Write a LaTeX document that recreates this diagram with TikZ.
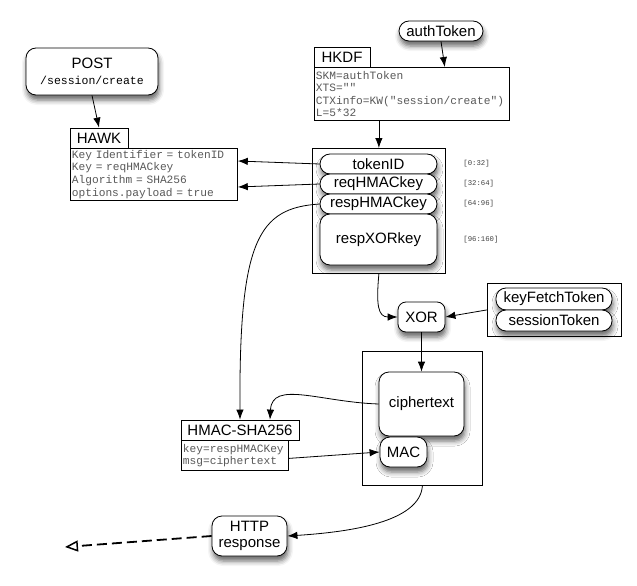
\documentclass[tikz,border=0pt]{standalone}
\usepackage{fontspec}
\setmainfont{Liberation Sans}
\newfontfamily\monof{Liberation Mono}
\usetikzlibrary{arrows.meta,shadows.blur,calc}
\begin{document}
\begin{tikzpicture}[x=1pt,y=-1pt, line width=0.8pt,
  >={Latex[length=10pt,width=7.5pt]},
  lab/.style={font=\fontsize{15}{17}\selectfont, align=center},
  shad/.style={blur shadow={shadow xshift=1pt,shadow yshift=-5pt,shadow blur radius=5pt,shadow opacity=60}},
  rbox/.style={draw, fill=white, rounded corners=#1, shad, lab, inner sep=0pt},
  rbox/.default=10pt,
  title/.style={draw, fill=white, lab, inner sep=0pt},
  body/.style={draw, fill=white, inner xsep=1.5pt, inner ysep=0pt, align=left, text=black!65,
    font=\monof\fontsize{11.2}{12.6}\selectfont},
  frame/.style={draw, fill=white, inner sep=0pt},
  rng/.style={font=\monof\fontsize{7.3}{8}\selectfont, text=black!75, anchor=west, inner sep=0pt}
]
\useasboundingbox (0,0) rectangle (637,586);

% POST
\node[rbox, minimum width=132pt, minimum height=47pt] (post) at (92,71.5)
  {POST\\[-1pt]{\monof\fontsize{11.5}{13}\selectfont /session/create}};

% HAWK
\node[title, minimum width=58pt, minimum height=20pt] (hawkt) at (99,138) {HAWK};
\node[body, text width=164pt, minimum height=52pt, anchor=north west] (hawkb) at (70,148)
  {Key Identifier = tokenID\\Key = reqHMACkey\\Algorithm = SHA256\\options.payload = true};

% authToken and HKDF
\node[rbox, minimum width=84pt, minimum height=20pt] (auth) at (441,31) {authToken};
\node[title, minimum width=56pt, minimum height=20pt] (hkdft) at (342,57) {HKDF};
\node[body, text width=192pt, minimum height=53pt, anchor=north west] (hkdfb) at (314,67)
  {SKM=authToken\\XTS=""\\CTXinfo=KW("session/create")\\L=5*32};

% key container
\node[frame, minimum width=133pt, minimum height=125pt, anchor=north west] (c1) at (312,148) {};
\node[rbox, minimum width=117pt, minimum height=20pt] (tok) at (378.5,164) {tokenID};
\node[rbox, minimum width=117pt, minimum height=20pt] (req) at (378.5,184) {reqHMACkey};
\node[rbox, minimum width=117pt, minimum height=20pt] (resp) at (378.5,204) {respHMACkey};
\node[rbox, minimum width=117pt, minimum height=51pt] (xork) at (378.5,239.5) {respXORkey};
\node[rng] (r1) at (463,164) {[0:32]};
\node[rng] (r2) at (463,184) {[32:64]};
\node[rng] (r3) at (463,204) {[64:96]};
\node[rng] (r4) at (463,240) {[96:160]};

% XOR and tokens
\node[rbox=8pt, minimum width=47pt, minimum height=30pt] (xor) at (421.5,317) {XOR};
\node[frame, minimum width=134pt, minimum height=53pt, anchor=north west] (c2) at (487,283) {};
\node[rbox, minimum width=116pt, minimum height=22pt] (kft) at (554,299) {keyFetchToken};
\node[rbox, minimum width=116pt, minimum height=21pt] (sess) at (554,320.5) {sessionToken};

% output container
\node[frame, minimum width=120pt, minimum height=134pt, anchor=north west] (c3) at (362,351) {};
\node[rbox, minimum width=85pt, minimum height=64pt] (ct) at (421.5,404) {ciphertext};
\node[rbox, minimum width=47pt, minimum height=30pt] (mac) at (403.5,452) {MAC};

% HMAC
\node[title, minimum width=118pt, minimum height=20pt] (hmact) at (240,430) {HMAC-SHA256};
\node[body, text width=104pt, minimum height=30pt, anchor=north west] (hmacb) at (181,440)
  {key=respHMACKey\\msg=ciphertext};

% HTTP response
\node[rbox, minimum width=75pt, minimum height=40pt] (http) at (249.5,536) {HTTP\\[-1pt]response};
\coordinate (away) at (65,547);

% connectors
\draw[->] (post.south) -- (hawkt.north);
\draw[->] (auth.south) -- ($(hkdfb.north east)+(-65,0)$);
\draw[->] (hkdfb.south -| c1.north) -- (c1.north);
\draw[->] (tok.west) -- ($(hawkb.north east)+(0,13)$);
\draw[->] (req.west) -- ($(hawkb.north east)+(0,39)$);
\draw[->] (resp.west) .. controls (258,208) and (239,240) .. (hmact.north);
\draw[->] (c1.south) .. controls (376,305) and (378,317) .. (xor.west);
\draw[->] (c2.west) -- (xor.east);
\draw[->] (xor.south) -- (ct.north);
\draw[->] (ct.west) .. controls (320,402) and (272,380) .. ($(hmact.north)+(30,0)$);
\draw[->] ($(hmacb.east)+(0,3)$) -- (mac.west);
\draw[->] (c3.south) .. controls (420,522) and (350,532) .. (http.east);
\draw[dashed, line width=1.8pt, dash pattern=on 10pt off 5pt,
  -{Triangle[open,length=13pt,width=11pt,line width=1.5pt]}] (http.west) -- (away);
\end{tikzpicture}
\end{document}
